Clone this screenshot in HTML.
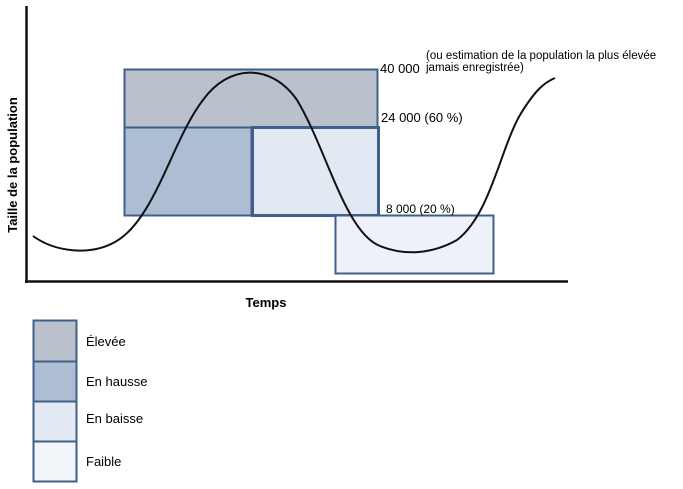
<!DOCTYPE html>
<html><head><meta charset="utf-8"><style>
body{margin:0;background:#fff;}
svg{display:block;font-family:"Liberation Sans",Arial,sans-serif;}
</style></head><body>
<svg width="683" height="489" viewBox="0 0 683 489">
<rect width="683" height="489" fill="#fff"/>
<rect x="124.5" y="69.5" width="253" height="58" fill="#bac1cc" stroke="#3f5f8d" stroke-width="2"/>
<rect x="124.5" y="127.5" width="127" height="88" fill="#adbdd4" stroke="#3f5f8d" stroke-width="2"/>
<rect x="252.5" y="127.5" width="126" height="88" fill="#e2e9f3" stroke="#3f5f8d" stroke-width="3"/>
<rect x="335.5" y="215.5" width="158" height="58" fill="#eef2f8" stroke="#3f5f8d" stroke-width="2"/>
<path d="M33,236 C55,252 90,256 115,242 C155,220 172,140 203,100 C228,65 270,62 297,100 C327,150 345,232 380,246 C405,256 432,254 457,240 C490,215 500,150 520,115 C535,90 545,82 555,78" fill="none" stroke="#111" stroke-width="2"/>
<line x1="26.5" y1="6" x2="26.5" y2="283" stroke="#111" stroke-width="2.5"/>
<line x1="25" y1="281.5" x2="568" y2="281.5" stroke="#111" stroke-width="2.5"/>
<text transform="translate(17,165) rotate(-90)" text-anchor="middle" font-size="13" font-weight="bold">Taille de la population</text>
<text x="266" y="307" text-anchor="middle" font-size="13" font-weight="bold">Temps</text>
<text x="380" y="73" font-size="13">40 000</text>
<text x="426" y="59" font-size="11.5">(ou estimation de la population la plus élevée</text>
<text x="426" y="71" font-size="11.5">jamais enregistrée)</text>
<text x="381" y="122" font-size="13">24 000 (60 %)</text>
<text x="386" y="213" font-size="12">8 000 (20 %)</text>
<rect x="33.5" y="320.5" width="43" height="41" fill="#bac1cc" stroke="#3f5f8d" stroke-width="2"/>
<rect x="33.5" y="361.5" width="43" height="40" fill="#adbdd4" stroke="#3f5f8d" stroke-width="2"/>
<rect x="33.5" y="401.5" width="43" height="40" fill="#e2e9f3" stroke="#3f5f8d" stroke-width="2"/>
<rect x="33.5" y="441.5" width="43" height="40" fill="#f2f5fa" stroke="#3f5f8d" stroke-width="2"/>
<text x="86" y="346" font-size="13">Élevée</text>
<text x="86" y="386" font-size="13">En hausse</text>
<text x="86" y="423" font-size="13">En baisse</text>
<text x="86" y="466" font-size="13">Faible</text>
</svg>
</body></html>
